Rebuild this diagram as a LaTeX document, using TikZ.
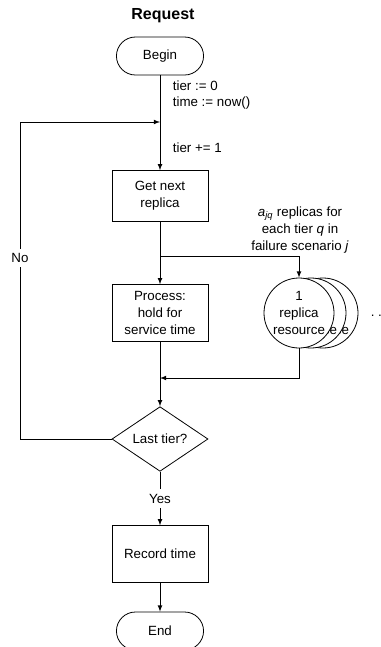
\documentclass[tikz,border=0pt]{standalone}
\usepackage{fontspec}
\setmainfont{Liberation Sans}
\usetikzlibrary{arrows, shapes, shapes.geometric}

\tikzset{
	flowbox/.style={draw, rectangle, fill=white, minimum width=72pt, minimum height=42.5pt, align=center, font=\fontsize{10}{13}\selectfont},
	terminal/.style={draw, rounded rectangle, minimum width=72pt, minimum height=28.5pt, font=\fontsize{10}{12}\selectfont},
	decision/.style={draw, diamond, inner sep=0pt, minimum width=72pt, minimum height=42pt, font=\fontsize{10}{12}\selectfont},
	replica/.style={draw, circle, fill=white, inner sep=0pt, minimum size=52.5pt, align=center, font=\fontsize{10}{12.8}\selectfont},
	lbl/.style={align=left, font=\fontsize{10}{12}\selectfont},
	flow/.style={->, >=latex}
}

\begin{document}
\begin{tikzpicture}[x=0.75pt, y=-0.75pt, line width=0.6pt]
	\useasboundingbox (0,0) rectangle (381,647);

	\node[font=\bfseries\fontsize{12}{14}\selectfont] (title) at (163,16) {Request};

	\node[terminal]	(begin)		at (160,56)		{Begin};
	\node[flowbox, minimum height=38pt]	(getrep)	at (160,196)	{Get next\\replica};
	\node[flowbox]	(proc)		at (160,313)	{Process:\\hold for\\service time};
	\node[decision]	(last)		at (160,439)	{Last tier?};
	\node[flowbox]	(rec)		at (160,554)	{Record time};
	\node[terminal]	(finish)	at (160,631)	{End};

	\coordinate (loopin)	at (160,122);
	\coordinate (split)		at (160,256);
	\coordinate (join)		at (160,378);
	\coordinate (nocorner)	at (20,122);

	\foreach \dx/\nm in {24/rep3, 12/rep2}
		\node[replica] (\nm) at (299+\dx,313) {1\\replica\\resource};
	\node[replica] (rep1) at (299,313) {1\\replica\\resource};
	\node[lbl, anchor=west] (more) at (366,316) {.~.~.};

	\node[lbl, anchor=west] (init) at (168,95) {tier := 0\\time := now()};
	\node[lbl, anchor=west] (incr) at (168,148) {tier += 1};
	\node[lbl, align=center, font=\fontsize{10}{12.7}\selectfont] (note) at (300,230)
		{\textit{a}\textsubscript{\textit{jq}} replicas for\\each tier \textit{q} in\\failure scenario \textit{j}};

	\draw[flow]	(begin.south) -- (getrep.north);
	\draw		(getrep.south) -- (split);
	\draw[flow]	(split) -- (proc.north);
	\draw[flow]	(split) -| (rep1.north);
	\draw		(proc.south) -- (join);
	\draw[flow]	(rep1.south) |- (join);
	\draw[flow]	(join) -- (last.north);
	\draw[flow]	(last.west) -| (nocorner) -- (loopin);
	\draw[flow]	(last.south) -- node[lbl, fill=white] (yes) {Yes} (rec.north);
	\draw[flow]	(rec.south) -- (finish.north);

	\node[lbl, fill=white] (no) at (20,258) {No};
\end{tikzpicture}
\end{document}
